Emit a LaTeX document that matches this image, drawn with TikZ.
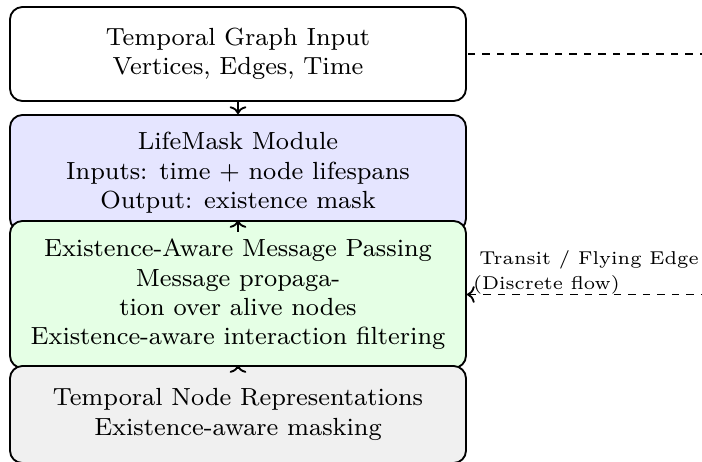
\documentclass[tikz,border=0pt]{standalone}
\usetikzlibrary{arrows.meta}
\begin{document}
\begin{tikzpicture}[x=0.32258pt,y=-0.32258pt,
  font=\footnotesize,
  >={Computer Modern Rightarrow[width=5.4pt,length=2.5pt]},
  stagebox/.style={draw,semithick,rounded corners,minimum width=147.1pt,align=center,inner sep=0pt},
  flowarrow/.style={semithick,->},
  sidelink/.style={semithick,dash pattern=on 2.34pt off 2.34pt},
  sidelabel/.style={font={\fontsize{6}{8}\selectfont},align=left,inner xsep=1.8pt,inner ysep=0pt,anchor=south west}]
\useasboundingbox (0,0) rectangle (702,461);
\clip (0,0) rectangle (702,461);
\node[stagebox,fill=white,minimum height=30.32pt] (input) at (238,54)
  {Temporal Graph Input\\Vertices, Edges, Time};
\node[stagebox,fill=blue!10,minimum height=37.42pt] (life) at (238,173)
  {LifeMask Module\\Inputs: time + node lifespans\\Output: existence mask};
\node[stagebox,fill=green!10,minimum height=47.42pt] (mp) at (238,294.5)
  {Existence-Aware Message Passing\\Message propaga-\\tion over alive nodes\\Existence-aware interaction filtering};
\node[stagebox,fill=gray!12,minimum height=31.29pt] (rep) at (238,414.5)
  {Temporal Node Representations\\Existence-aware masking};
\draw[flowarrow] (input.south) -- (life.north);
\draw[flowarrow] (life.south) -- (mp.north);
\draw[flowarrow] (mp.south) -- (rep.north);
\draw[sidelink,<-] (mp.east) -- ++(320,0) |- (input.east);
\node[sidelabel] (lbl) at (mp.east) {\hspace*{2pt}Transit / Flying Edge\\(Discrete flow)};
\end{tikzpicture}
\end{document}
